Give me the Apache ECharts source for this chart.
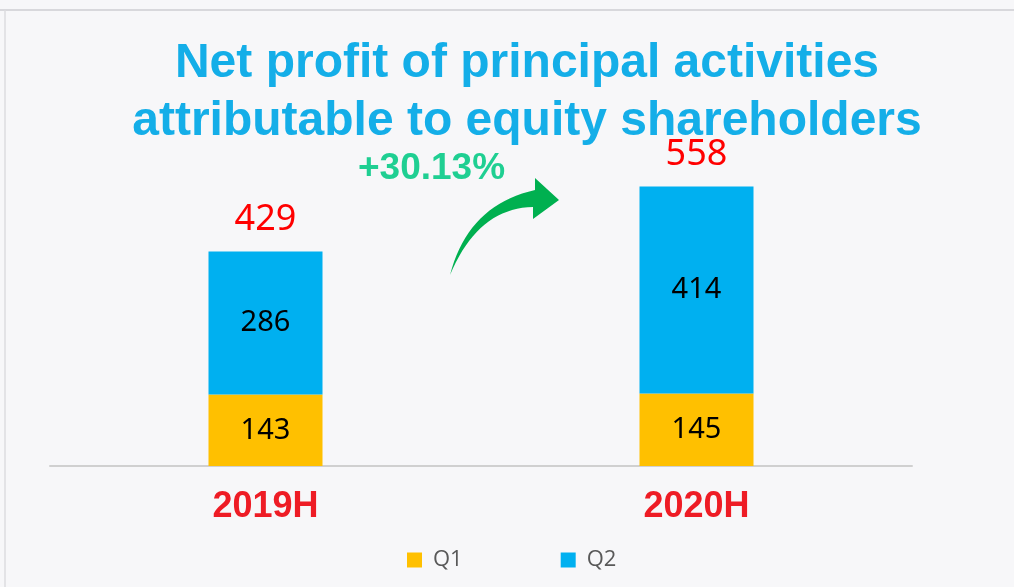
<!DOCTYPE html>
<html>
<head>
<meta charset="utf-8">
<style>
  html, body { margin: 0; padding: 0; background: #f7f7f9; }
  #main { width: 1014px; height: 587px; }
</style>
<script src="https://cdn.jsdelivr.net/npm/echarts@6/dist/echarts.min.js"></script>
</head>
<body>
<div id="main"></div>
<script>
// data
let periods = ['2019H', '2020H']
let q1 = [143, 145]
let q2 = [286, 414]
let totals = [429, 558]
let growthText = '+30.13%'

let myChart = echarts.init(document.getElementById('main'))

// sample a quadratic bezier into points (for the decorative arrow)
let quad = (p0, c, p1, n) => {
    let pts = []
    for (let i = 0; i <= n; i++) {
        let t = i / n
        let a = (1 - t) * (1 - t), b = 2 * (1 - t) * t, d = t * t
        pts.push([a * p0[0] + b * c[0] + d * p1[0], a * p0[1] + b * c[1] + d * p1[1]])
    }
    return pts
}
let arrowPts = quad([450, 275], [468, 205], [535, 190], 20)
    .concat([[535, 178], [559, 200], [533, 219]])
    .concat(quad([533, 207], [478, 208], [450, 275], 20))

let segLabel = {
    show: true,
    position: 'inside',
    color: '#000',
    fontSize: 29,
    fontFamily: 'Noto Sans'
}

myChart.setOption({
    backgroundColor: '#f7f7f9',
    title: {
        text: 'Net profit of principal activities\nattributable to equity shareholders',
        left: 522,
        textAlign: 'center',
        top: 30,
        textStyle: {
            color: '#14aee8',
            fontSize: 48,
            fontWeight: 'bold',
            fontFamily: 'Liberation Sans',
            lineHeight: 58
        }
    },
    legend: {
        data: ['Q1', 'Q2'],
        bottom: 16,
        left: 407,
        padding: 0,
        itemWidth: 15,
        itemHeight: 15,
        itemGap: 98,
        icon: 'rect',
        textStyle: { color: '#595959', fontSize: 22, fontFamily: 'Open Sans', padding: [0, 0, 0, 6] }
    },
    grid: { left: 50, right: 102, top: 166, bottom: 121 },
    xAxis: {
        type: 'category',
        data: periods,
        axisLine: { lineStyle: { color: '#d0d0d0', width: 2 } },
        axisTick: { show: false },
        axisLabel: {
            color: '#ee1c25',
            fontSize: 36,
            fontWeight: 'bold',
            fontFamily: 'Liberation Sans',
            margin: 23
        }
    },
    yAxis: {
        type: 'value',
        min: 0,
        max: 600,
        show: false,
        splitLine: { show: false }
    },
    series: [
        {
            name: 'Q1',
            type: 'bar',
            stack: 'h',
            barWidth: 114,
            data: q1,
            itemStyle: { color: '#ffc000' },
            label: segLabel
        },
        {
            name: 'Q2',
            type: 'bar',
            stack: 'h',
            data: q2,
            itemStyle: { color: '#00b0f0' },
            label: segLabel
        },
        {
            name: 'Total',
            type: 'bar',
            barWidth: 114,
            barGap: '-100%',
            data: totals,
            z: 0,
            itemStyle: { color: 'rgba(0,0,0,0)' },
            label: {
                show: true,
                position: 'top',
                distance: 14,
                color: '#ff0000',
                fontSize: 36,
                fontFamily: 'Noto Sans'
            }
        }
    ],
    graphic: [
        {
            type: 'line',
            shape: { x1: 0, y1: 10, x2: 1014, y2: 10 },
            style: { stroke: '#d8d8dc', lineWidth: 2 }
        },
        {
            type: 'line',
            shape: { x1: 5, y1: 10, x2: 5, y2: 587 },
            style: { stroke: '#dcdcdf', lineWidth: 1.5 }
        },
        {
            type: 'text',
            x: 358,
            y: 150,
            style: {
                text: growthText,
                fill: '#1fcf92',
                font: 'bold 37px "Liberation Sans"'
            }
        },
        {
            type: 'polygon',
            shape: { points: arrowPts },
            style: { fill: '#00b050' }
        }
    ]
})
</script>
</body>
</html>
